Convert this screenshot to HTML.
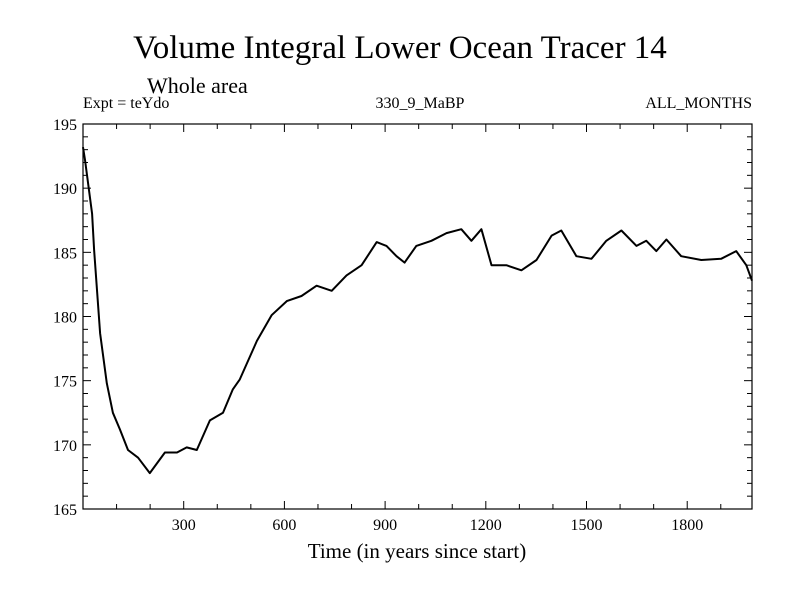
<!DOCTYPE html>
<html><head><meta charset="utf-8"><style>
body{margin:0;background:#fff}
svg{display:block}
text{font-family:"Liberation Serif",serif;fill:#000}
</style></head><body>
<svg width="800" height="600">
<text x="400" y="58" font-size="33" text-anchor="middle">Volume Integral Lower Ocean Tracer 14</text>
<text x="147" y="93" font-size="22">Whole area</text>
<text x="83" y="108" font-size="16">Expt = teYdo</text>
<text x="420" y="108" font-size="16" text-anchor="middle">330_9_MaBP</text>
<text x="752" y="108" font-size="16" text-anchor="end">ALL_MONTHS</text>
<g id="axes"></g>
<path id="line" fill="none" stroke="#000" stroke-width="2" stroke-linejoin="round"/>
<rect x="83" y="124" width="669" height="385" fill="none" stroke="#000" stroke-width="1.2"/>
<text x="417" y="558" font-size="21" text-anchor="middle">Time (in years since start)</text>
</svg>
<script>
const years=[0,6,27,33,51,71,89,110,134,164,199,244,280,309,339,378,417,446,467,518,562,607,651,696,741,785,830,875,904,934,958,993,1038,1083,1127,1157,1187,1217,1261,1306,1351,1396,1425,1470,1515,1559,1604,1649,1678,1708,1738,1782,1842,1901,1946,1976,1993];
const values=[193.2,192.2,188.0,185.2,178.7,174.8,172.5,171.2,169.6,169.0,167.8,169.4,169.4,169.8,169.6,171.9,172.5,174.3,175.1,178.1,180.1,181.2,181.6,182.4,182.0,183.2,184.0,185.8,185.5,184.7,184.2,185.5,185.9,186.5,186.8,185.9,186.8,184.0,184.0,183.6,184.4,186.3,186.7,184.7,184.5,185.9,186.7,185.5,185.9,185.1,186.0,184.7,184.4,184.5,185.1,184.0,182.8];
const xTicks=[300,600,900,1200,1500,1800];
const yTicks=[165,170,175,180,185,190,195];
const X0=83,X1=752,Y0=509,Y1=124,XMIN=0,XMAX=1993,YMIN=165,YMAX=195;
const sx=v=>X0+(v-XMIN)/(XMAX-XMIN)*(X1-X0);
const sy=v=>Y0-(v-YMIN)/(YMAX-YMIN)*(Y0-Y1);
const NS="http://www.w3.org/2000/svg";
const g=document.getElementById('axes');
function ln(x1,y1,x2,y2){const l=document.createElementNS(NS,'line');l.setAttribute('x1',x1);l.setAttribute('y1',y1);l.setAttribute('x2',x2);l.setAttribute('y2',y2);l.setAttribute('stroke','#000');


g.appendChild(l);}
function tx(x,y,s,a){const t=document.createElementNS(NS,'text');t.setAttribute('x',x);t.setAttribute('y',y);t.setAttribute('font-size','16');t.setAttribute('text-anchor',a);t.textContent=s;


g.appendChild(t);}
for(let v=100;v<XMAX;v+=100){const x=sx(v);const L=(v%300===0)?8:5;ln(x,Y0,x,Y0-L);ln(x,Y1,x,Y1+L);}
for(let v=YMIN+1;v<YMAX;v++){const y=sy(v);const L=(v%5===0)?8:5;ln(X0,y,X0+L,y);ln(X1,y,X1-L,y);}
xTicks.forEach(v=>tx(sx(v),530,String(v),'middle'));
yTicks.forEach(v=>tx(X0-6,sy(v)+6,String(v),'end'));
document.getElementById('line').setAttribute('d',years.map((y,i)=>(i?'L':'M')+sx(y).toFixed(1)+','+sy(values[i]).toFixed(1)).join(''));
</script>
</body></html>
